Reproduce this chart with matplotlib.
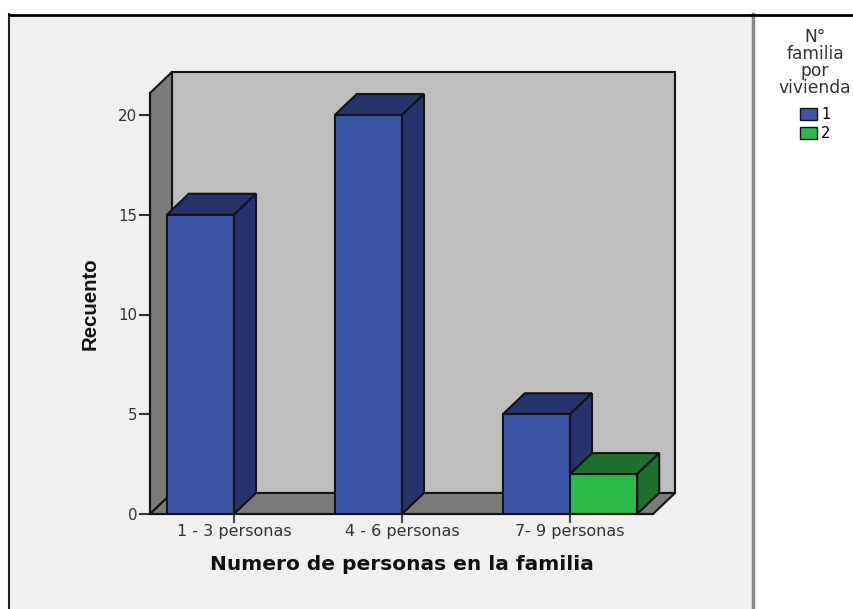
import matplotlib
matplotlib.use("Agg")
import matplotlib.pyplot as plt
from matplotlib.patches import Polygon, Rectangle, Patch

categories = ["1 - 3 personas", "4 - 6 personas", "7- 9 personas"]
series_1 = [15, 20, 5]
series_2 = [0, 0, 2]
y_ticks = [0, 5, 10, 15, 20]
legend_title = "N°\nfamilia\npor\nvivienda"
legend_labels = ["1", "2"]
x_label = "Numero de personas en la familia"
y_label = "Recuento"

W, H = 854, 609
EDGE = "#141414"
BLUE, BLUE_DARK = "#3B55A5", "#24336B"
GREEN, GREEN_DARK = "#2DB84A", "#1E6E2D"

# depth of the fake 3d box, in data units
DX = 22 / 168
DY = 21 / 19.95
BAR_W = 0.4


def px_axes(fig, left, right, top, bottom):
    return fig.add_axes([left / W, 1 - bottom / H, (right - left) / W, (bottom - top) / H])


def box_bar(ax, x0, height, front, dark):
    ax.bar(x0, height, BAR_W, align="edge", color=front, edgecolor=EDGE, linewidth=1.5, zorder=5)
    x1 = x0 + BAR_W
    top = [(x0, height), (x0 + DX, height + DY), (x1 + DX, height + DY), (x1, height)]
    side = [(x1, 0), (x1 + DX, DY), (x1 + DX, height + DY), (x1, height)]
    for pts in (top, side):
        ax.add_patch(Polygon(pts, closed=True, facecolor=dark, edgecolor=EDGE,
                             linewidth=1.5, zorder=4, clip_on=False))


fig = plt.figure(figsize=(W / 100, H / 100), dpi=100, facecolor="white")

# grey panel behind the chart
panel = px_axes(fig, 0, W, 0, H)
panel.set_xlim(0, W)
panel.set_ylim(H, 0)
panel.axis("off")
panel.add_patch(Rectangle((9, 14), 744, H, facecolor="#F0F0F0", edgecolor="none"))
panel.plot([9, 9], [14, H], color="#222222", lw=1.5)
panel.plot([753, 753], [14, H], color="#8A8A8A", lw=2.5)
panel.plot([9, W + 5], [14.5, 14.5], color="black", lw=2)

ax = px_axes(fig, 150, 653, 93, 514)
ax.set_xlim(-0.5, 2.494)
ax.set_ylim(0, 421 / 19.95)
ax.patch.set_alpha(0)

x_lo, x_hi = ax.get_xlim()
y_hi = ax.get_ylim()[1]

# back wall, left wall, floor
ax.add_patch(Polygon([(x_lo + DX, DY), (x_hi + DX, DY), (x_hi + DX, y_hi + DY), (x_lo + DX, y_hi + DY)],
                     closed=True, facecolor="#BEBEBE", edgecolor=EDGE, lw=1.5, clip_on=False, zorder=1))
ax.add_patch(Polygon([(x_lo, 0), (x_lo + DX, DY), (x_lo + DX, y_hi + DY), (x_lo, y_hi)],
                     closed=True, facecolor="#7A7A7A", edgecolor=EDGE, lw=1.5, clip_on=False, zorder=2))
ax.add_patch(Polygon([(x_lo, 0), (x_hi, 0), (x_hi + DX, DY), (x_lo + DX, DY)],
                     closed=True, facecolor="#7A7A7A", edgecolor=EDGE, lw=1.5, clip_on=False, zorder=2))

for i, v in enumerate(series_1):
    if v > 0:
        box_bar(ax, i - BAR_W, v, BLUE, BLUE_DARK)
for i, v in enumerate(series_2):
    if v > 0:
        box_bar(ax, i, v, GREEN, GREEN_DARK)

ax.set_xticks(range(len(categories)))
ax.set_xticklabels(categories, family="DejaVu Sans", fontsize=11.5, color="#333333")
ax.set_yticks(y_ticks)
ax.set_yticklabels(y_ticks, family="DejaVu Sans", fontsize=10.8, color="#333333")
ax.tick_params(axis="x", length=6.5, width=1.5, color="#444444", pad=1)
ax.tick_params(axis="y", length=8, width=1.5, color="#333333", pad=1)
for name in ("top", "right"):
    ax.spines[name].set_visible(False)
for name in ("left", "bottom"):
    ax.spines[name].set_linewidth(1.5)
    ax.spines[name].set_color(EDGE)
    ax.spines[name].set_zorder(6)

fig.text(402 / W, 1 - 564 / H, x_label, family="DejaVu Sans", fontweight="bold", fontsize=14.5,
         ha="center", va="center", color="#111111")
fig.text(90 / W, 1 - 304 / H, y_label, family="Liberation Sans", fontweight="bold", fontsize=14.7,
         rotation=90, ha="center", va="center", color="#111111")

# legend title sits apart from the swatches
fig.text(815 / W, 1 - 62.5 / H, legend_title, family="DejaVu Sans", fontsize=12.3, color="#333333",
         ha="center", va="center", multialignment="center", linespacing=0.93)
handles = [Patch(facecolor=BLUE, edgecolor=EDGE, lw=1), Patch(facecolor=GREEN, edgecolor=EDGE, lw=1)]
fig.legend(handles, legend_labels, frameon=False,
           loc="upper left", bbox_to_anchor=(800 / W, 1 - 107 / H),
           prop={"family": "DejaVu Sans", "size": 10.5},
           handlelength=1.2, handleheight=0.95, handletextpad=0.25, labelspacing=0.28,
           borderpad=0, borderaxespad=0)

fig.savefig("out.png", dpi=100)
